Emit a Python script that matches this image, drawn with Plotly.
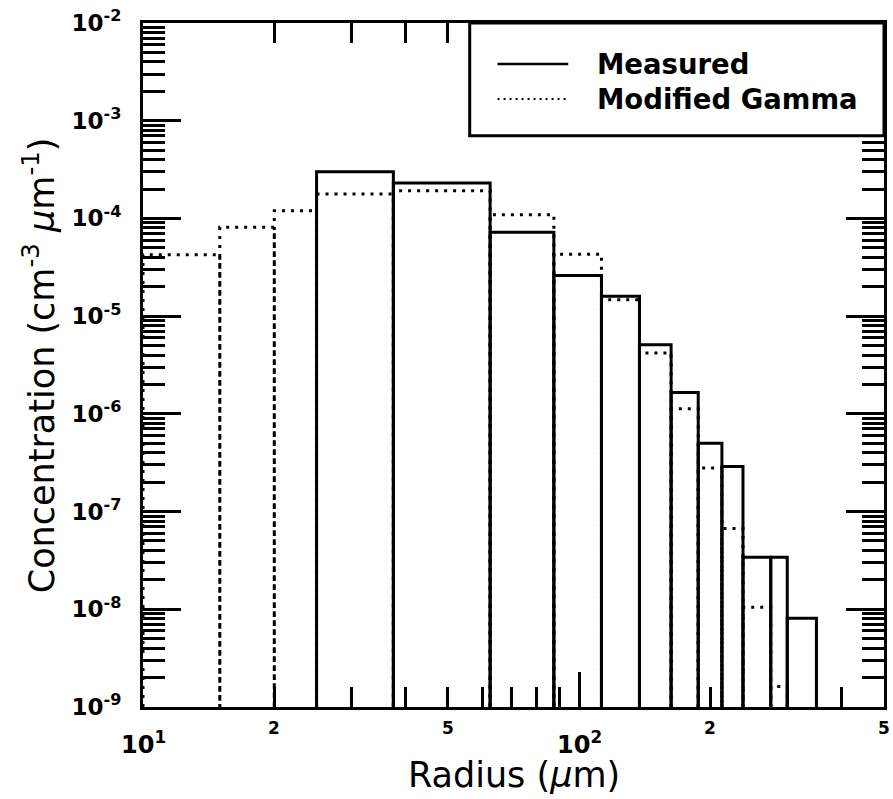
import math
import plotly.graph_objects as go

# ---- data ----
meas_edges = [25, 37.5, 62.5, 87.5, 112.5, 137.5, 162.5, 187.5, 212.5, 237.5, 275, 300, 350]
meas_vals = [3.0e-4, 2.3e-4, 7.2e-5, 2.6e-5, 1.6e-5, 5.1e-6, 1.65e-6, 5.0e-7, 2.9e-7, 3.4e-8, 3.4e-8, 8.1e-9]

gamma_edges = [10, 15, 20, 25, 37.5, 62.5, 87.5, 112.5, 137.5, 162.5, 187.5, 212.5, 237.5, 275, 300]
gamma_vals = [4.25e-5, 8.1e-5, 1.2e-4, 1.78e-4, 1.92e-4, 1.09e-4, 4.3e-5, 1.47e-5, 4.2e-6, 1.13e-6,
              2.8e-7, 6.7e-8, 1.05e-8, 1.62e-9]

y_tick_vals = [1e-9, 1e-8, 1e-7, 1e-6, 1e-5, 1e-4, 1e-3, 1e-2]
y_tick_text = ["10<sup>-9</sup>", "10<sup>-8</sup>", "10<sup>-7</sup>", "10<sup>-6</sup>",
               "10<sup>-5</sup>", "10<sup>-4</sup>", "10<sup>-3</sup>", "10<sup>-2</sup>"]
x_major_vals = [10, 100]
x_major_text = ["10<sup>1</sup>", "10<sup>2</sup>"]
x_minor_label_vals = [20, 50, 200, 500]
x_minor_label_text = ["2", "5", "2", "5"]

X_MIN, X_MAX = 10, 500
Y_FLOOR = 1e-9
FONT = "DejaVu Sans"


def boxes(edges, vals, floor):
    xs, ys = [], []
    for i, v in enumerate(vals):
        x0, x1 = edges[i], edges[i + 1]
        xs += [x0, x0, x1, x1, None]
        ys += [floor, v, v, floor, None]
    return xs, ys


gx, gy = boxes(gamma_edges, gamma_vals, Y_FLOOR)
mx, my = boxes(meas_edges, meas_vals, Y_FLOOR)

fig = go.Figure()
fig.add_trace(go.Scatter(x=gx, y=gy, mode="lines", name="Modified Gamma",
                         line=dict(color="black", width=3, dash="3px,6px"), connectgaps=False))
fig.add_trace(go.Scatter(x=mx, y=my, mode="lines", name="Measured",
                         line=dict(color="black", width=3), connectgaps=False))

x_minor = [d * 10 ** e for e in (1, 2) for d in range(2, 10) if d * 10 ** e <= X_MAX]
y_minor = [d * 10.0 ** e for e in range(-9, -2) for d in range(2, 10)]

fig.update_xaxes(type="log", range=[math.log10(X_MIN), math.log10(X_MAX)], showline=True,
                 linewidth=3, linecolor="black",
                 mirror="allticks", ticks="inside", ticklen=35, tickwidth=2.5, tickcolor="black",
                 tickmode="array", tickvals=x_major_vals, showticklabels=False, showgrid=False,
                 zeroline=False,
                 minor=dict(tickmode="array", tickvals=x_minor, ticks="inside", ticklen=20,
                            tickwidth=2.5, tickcolor="black", showgrid=False))
fig.update_yaxes(type="log", range=[-9, -2], showline=True, linewidth=3, linecolor="black",
                 mirror="allticks", ticks="inside", ticklen=38, tickwidth=2.5, tickcolor="black",
                 tickmode="array", tickvals=y_tick_vals, ticktext=y_tick_text,
                 tickfont=dict(family=FONT, size=23, color="black", weight="bold"),
                 ticklabelstandoff=14, showgrid=False, zeroline=False,
                 minor=dict(tickmode="array", tickvals=y_minor, ticks="inside", ticklen=22,
                            tickwidth=2.5, tickcolor="black", showgrid=False))

ann = []
for v, t in zip(x_major_vals, x_major_text):
    ann.append(dict(x=math.log10(v), y=0, xref="x", yref="paper", text=t, showarrow=False,
                    xanchor="center", yanchor="top", yshift=-18,
                    font=dict(family=FONT, size=24, color="black", weight="bold")))
for v, t in zip(x_minor_label_vals, x_minor_label_text):
    ann.append(dict(x=math.log10(v), y=0, xref="x", yref="paper", text=t, showarrow=False,
                    xanchor="center", yanchor="middle", yshift=-21,
                    font=dict(family=FONT, size=17, color="black", weight="bold")))
ann.append(dict(x=0.5, y=-0.099, xref="paper", yref="paper", text="Radius (<i>μ</i>m)",
                showarrow=False, xanchor="center", yanchor="middle",
                font=dict(family=FONT, size=35, color="black")))
ann.append(dict(x=-0.14, y=0.5, xref="paper", yref="paper",
                text="Concentration (cm<sup>-3</sup> <i>μ</i>m<sup>-1</sup>)",
                showarrow=False, xanchor="center", yanchor="middle", textangle=-90,
                font=dict(family=FONT, size=35, color="black")))

# manual legend
leg_x0, leg_x1, leg_y0, leg_y1 = 0.4409, 1.0, 0.835, 1.0
shapes = [dict(type="rect", xref="paper", yref="paper", x0=leg_x0, x1=leg_x1, y0=leg_y0, y1=leg_y1,
               line=dict(color="black", width=3), fillcolor="white", layer="above"),
          dict(type="line", xref="paper", yref="paper", x0=0.4785, x1=0.5739, y0=0.940, y1=0.940,
               line=dict(color="black", width=2.5)),
          dict(type="line", xref="paper", yref="paper", x0=0.4785, x1=0.5739, y0=0.889, y1=0.889,
               line=dict(color="black", width=2, dash="2px,4px"))]
for name, yy in (("Measured", 0.940), ("Modified Gamma", 0.889)):
    ann.append(dict(x=0.610, y=yy, xref="paper", yref="paper", text=name, showarrow=False,
                    xanchor="left", yanchor="middle",
                    font=dict(family=FONT, size=27.5, color="black", weight="bold")))

fig.update_layout(width=893, height=799, margin=dict(l=143, r=6, t=22, b=92),
                  paper_bgcolor="white", plot_bgcolor="white", showlegend=False,
                  annotations=ann, shapes=shapes)

fig.write_html("out.html")
